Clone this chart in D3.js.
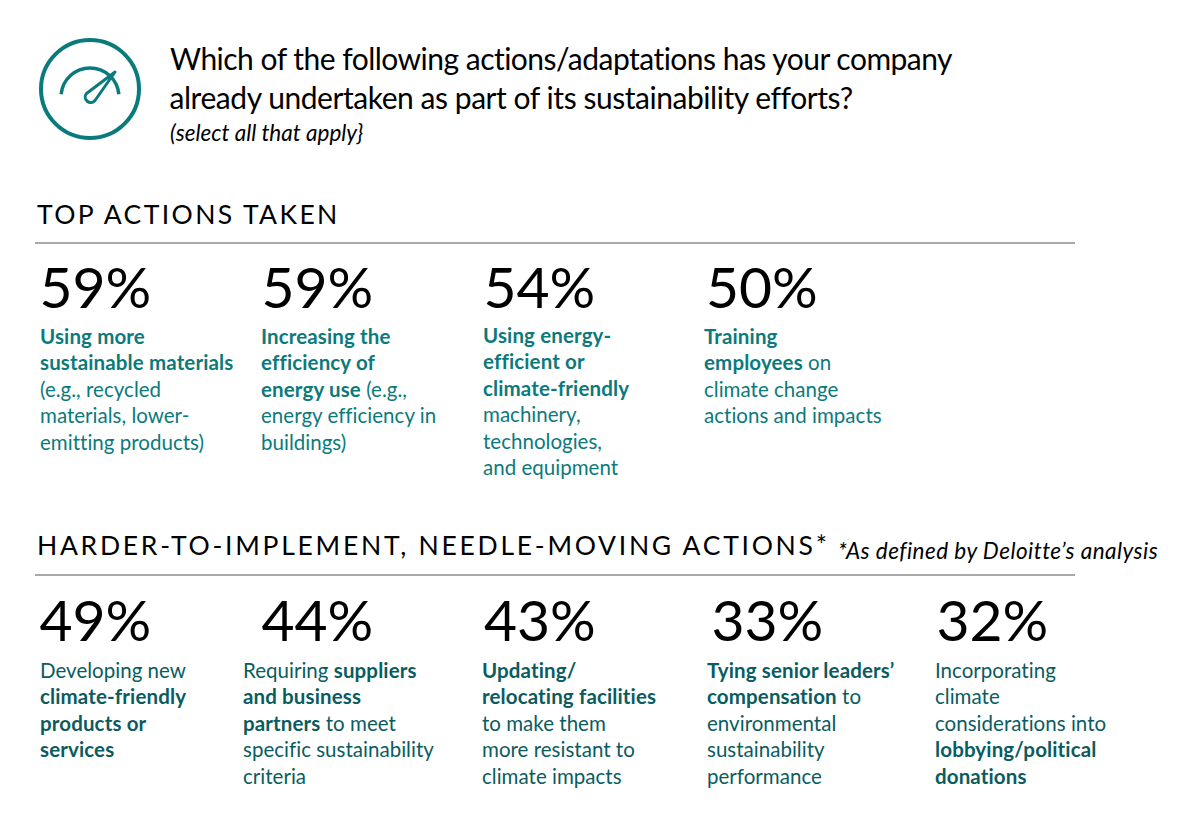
<!DOCTYPE html>
<html lang="en">
<head>
<meta charset="utf-8">
<title>Sustainability actions</title>
<script src="https://cdnjs.cloudflare.com/ajax/libs/d3/7.0.0/d3.min.js"></script>
<style>
  html, body { margin: 0; background: #fff; }
  svg text { font-family: Lato, "Open Sans", sans-serif; }
</style>
</head>
<body>
<svg id="chart" width="1200" height="821"></svg>
<script>
// data, ** marks the bold part of a label line
const topValues = [59, 59, 54, 50];
const topLabels = [
  ["**Using more**", "**sustainable materials**", "(e.g., recycled", "materials, lower-", "emitting products)"],
  ["**Increasing the**", "**efficiency of**", "**energy use** (e.g.,", "energy efficiency in", "buildings)"],
  ["**Using energy-**", "**efficient or**", "**climate-friendly**", "machinery,", "technologies,", "and equipment"],
  ["**Training**", "**employees** on", "climate change", "actions and impacts"]
];
const harderValues = [49, 44, 43, 33, 32];
const harderLabels = [
  ["Developing new", "**climate-friendly**", "**products or**", "**services**"],
  ["Requiring **suppliers**", "**and business**", "**partners** to meet", "specific sustainability", "criteria"],
  ["**Updating/**", "**relocating facilities**", "to make them", "more resistant to", "climate impacts"],
  ["**Tying senior leaders’**", "**compensation** to", "environmental", "sustainability", "performance"],
  ["Incorporating", "climate", "considerations into", "**lobbying/political**", "**donations**"]
];

const teal = "#0b7a7c";
const svg = d3.select("#chart");

// layout
const topValueX = [39.5, 261.5, 483.5, 706];
const topLabelX = [40, 261, 483, 704];
const harderValueX = [39.5, 261.5, 484, 711.5, 936.5];
const harderLabelX = [40, 243, 482, 707, 935];
const lineGap = 26.4;

function addText(x, y, size, str, opts = {}) {
  return svg.append("text")
    .attr("x", x).attr("y", y)
    .attr("font-size", size)
    .attr("fill", opts.fill || "#000")
    .attr("font-style", opts.italic ? "italic" : null)
    .attr("letter-spacing", opts.spacing || null)
    .text(str);
}

function drawLabel(lines, x, y0, color) {
  lines.forEach((line, i) => {
    const t = svg.append("text")
      .attr("x", x).attr("y", y0 + i * lineGap)
      .attr("font-size", 20.5).attr("fill", color);
    line.split("**").forEach((part, j) => {
      if (!part) return;
      t.append("tspan")
        .attr("font-weight", j % 2 ? 700 : 400)
        .attr("letter-spacing", j % 2 ? 0.13 : 0.02)
        .text(part);
    });
  });
}

function drawRow(values, labels, valueX, labelX, valueY, labelY, color) {
  values.forEach((v, i) => {
    addText(valueX[i], valueY, 57, v + "%");
    drawLabel(labels[i], labelX[i], labelY[i] ?? labelY, color);
  });
}

// icon
const icon = svg.append("g").attr("fill", "none").attr("stroke", teal).attr("stroke-linecap", "round");
icon.append("circle").attr("cx", 90).attr("cy", 89).attr("r", 49).attr("stroke-width", 4);
icon.append("path").attr("stroke-width", 3.5)
  .attr("d", d3.arc()({ innerRadius: 29, outerRadius: 29, startAngle: -Math.PI * 0.47, endAngle: Math.PI * 0.47 }))
  .attr("transform", "translate(90,97)");
icon.append("path").attr("stroke-width", 3).attr("stroke-linejoin", "round")
  .attr("d", "M86.5 93.5 L115 72 L95 100.5 A5 5 0 0 1 86.5 93.5 Z");

// header
addText(170, 70, 30, "Which of the following actions/adaptations has your company", { spacing: -0.52 });
addText(169.5, 109, 30, "already undertaken as part of its sustainability efforts?", { spacing: -0.45 });
addText(170, 141, 22.5, "(select all that apply}", { italic: true });

// section 1
addText(37, 223.5, 26.5, "TOP ACTIONS TAKEN", { spacing: 2.4 });
svg.append("line").attr("x1", 35).attr("x2", 1075).attr("y1", 243).attr("y2", 243).attr("stroke", "#8c8c8c").attr("stroke-width", 1.5);
drawRow(topValues, topLabels, topValueX, topLabelX, 308, [344, 344, 343, 344], teal);

// section 2
addText(37, 555, 26.5, "HARDER-TO-IMPLEMENT, NEEDLE-MOVING ACTIONS*", { spacing: 2.72 });
addText(838, 559, 22.5, "*As defined by Deloitte’s analysis", { italic: true, spacing: 0.46 });
svg.append("line").attr("x1", 35).attr("x2", 1075).attr("y1", 575).attr("y2", 575).attr("stroke", "#8c8c8c").attr("stroke-width", 1.5);
drawRow(harderValues, harderLabels, harderValueX, harderLabelX, 641, 678, "#0a5c60");
</script>
</body>
</html>
